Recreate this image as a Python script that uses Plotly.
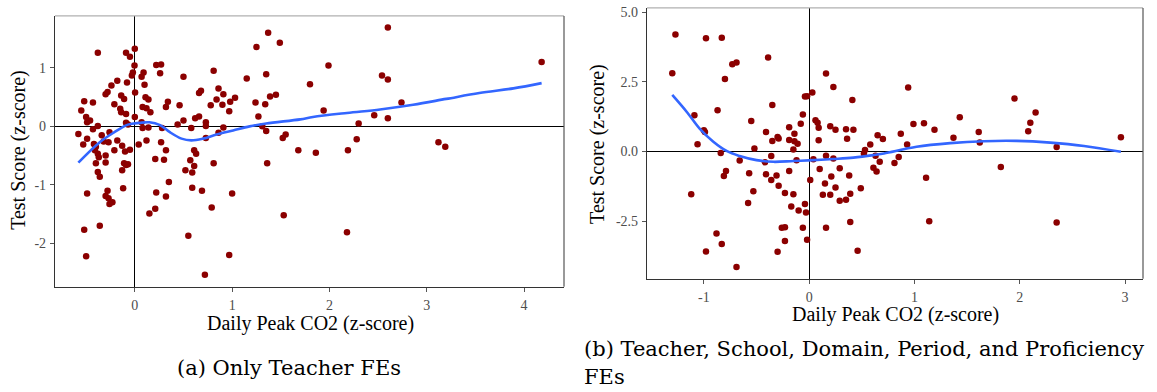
import plotly.graph_objects as go

# ---------------- Data: panel (a) ----------------
a_x = [-0.58, -0.53, -0.55, -0.52, -0.50, -0.49, -0.46, -0.49, -0.38, -0.43, -0.43, -0.38, -0.42, -0.40,
       -0.41, -0.38, -0.37, -0.40, -0.38, -0.36, -0.34, -0.32, -0.30, -0.30, -0.26, -0.27, -0.30, -0.28,
       -0.24, -0.18, -0.21, -0.21, -0.18, -0.15, -0.14, -0.11, -0.14, -0.13, -0.10, -0.11, -0.13, -0.09,
       -0.07, -0.09, -0.09, -0.07, -0.05, -0.09, -0.05, -0.08, -0.03, -0.02, -0.003, 0.0, 0.003, 0.0,
       0.04, 0.07, 0.08, 0.09, 0.07, 0.10, 0.11, 0.14, 0.08, 0.12, 0.16, 0.14, 0.12, 0.21, 0.22, 0.27,
       0.26, 0.34, 0.32, 0.28, 0.27, 0.32, 0.30, 0.35, 0.22, 0.32, 0.46, 0.44, 0.50, 0.50, 0.52, 0.58,
       0.57, 0.61, 0.63, 0.59, 0.61, 0.59, 0.66, 0.62, 0.66, 0.68, 0.73, 0.73, 0.73, 0.69, 0.78, 0.81,
       0.81, 0.84, 0.86, 0.86, 0.90, 0.91, 0.91, 0.97, 0.98, 1.03, 1.00, 1.15, 1.24, 1.27, 1.25, 1.35,
       1.34, 1.31, 1.35, 1.37, 1.39, 1.45, 1.49, 1.36, 1.52, 1.55, 1.68,
       -0.49, -0.28, -0.30, -0.27, -0.23, -0.26, -0.52, -0.36, -0.50, -0.12, 0.15, 0.21, 0.55, 0.72,
       0.79, 0.97, 1.53,
       1.99, 1.80, 1.94, 2.60, 2.54, 2.60, 2.74, 2.46, 2.60, 2.30, 1.86, 2.19, 2.28, 3.12, 3.19, 4.18,
       2.18]
a_y = [-0.13, -0.31, 0.27, 0.43, 0.16, 0.07, 0.10, -0.21, 1.26, 0.41, -0.05, 0.005, -0.30, -0.35,
       -0.41, -0.47, -0.53, -0.63, -0.78, -0.86, -0.15, -0.26, -0.50, -0.62, -0.10, -0.27, 0.55, 0.59,
       0.70, 0.78, 0.38, -0.41, -0.24, 0.30, 0.53, 0.47, 0.24, -0.33, -0.43, -0.63, -0.75, -0.66,
       -0.65, 0.21, 0.06, 0.03, -0.40, 1.26, 1.19, 0.75, 0.87, 0.92, 1.04, 1.33, 0.58, 0.16,
       -0.31, 0.07, -0.03, 0.92, 0.85, 0.71, 0.50, 0.46, 0.33, 0.31, 0.24, -0.02, -0.24, -0.56, 1.05, 1.06,
       0.91, 0.42, 0.33, -0.03, -0.27, -0.41, -0.57, -0.95, -1.13, -1.20, 0.36, 0.03, 0.10, 0.85, -0.75, -0.03,
       -0.58, -0.41, -0.47, -0.79, -0.68, -1.05, 0.17, 0.14, 0.57, 0.61, 0.07, 0.005, -0.20, -1.10, 0.36, 0.95,
       -0.63, 0.46, 0.65, -0.11, 0.37, 0.55, -0.02, 0.26, 0.42, 0.49, -1.15, 0.82, 0.41, 0.17, 1.36, 0.89,
       0.38, 0.0, -0.08, 1.60, 0.51, 0.54, 1.43, -0.63, -0.20, -0.14, -0.41,
       -1.15, -1.10, -1.19, -1.23, -1.30, -1.33, -1.77, -1.70, -2.22, -1.06, -1.49, -1.41, -1.87, -2.54,
       -1.39, -2.20, -1.52,
       1.04, 0.72, 0.27, 1.69, 0.87, 0.80, 0.41, 0.19, 0.14, 0.05, -0.45, -0.41, -0.22, -0.27, -0.35, 1.10,
       -1.81]

a_fit_x = [-0.58, -0.36, -0.21, -0.07, 0.05, 0.15, 0.26, 0.36, 0.48, 0.58, 0.70, 0.84, 1.01, 1.18,
           1.35, 1.70, 1.83, 2.18, 2.52, 2.86, 3.20, 3.54, 3.89, 4.18]
a_fit_y = [-0.62, -0.27, -0.10, 0.03, 0.06, 0.07, 0.02, -0.10, -0.21, -0.24, -0.21, -0.14, -0.07, 0.0,
           0.05, 0.12, 0.16, 0.23, 0.29, 0.37, 0.47, 0.57, 0.65, 0.74]

# ---------------- Data: panel (b) ----------------
b_x = [-1.30, -1.27, -1.09, -1.06, -1.00, -0.99, -0.98, -0.83, -0.80, -0.87, -0.84, -0.73, -0.69, -0.79,
       -0.81, -0.66, -1.12, -0.55, -0.52, -0.57, -0.39, -0.35, -0.41, -0.42, -0.36, -0.35, -0.30, -0.29,
       -0.41, -0.36, -0.31, -0.19, -0.19, -0.14, -0.14, -0.11, -0.15, -0.12, -0.19, -0.08, -0.06, -0.04,
       -0.02, 0.03, 0.06, 0.08, 0.09, 0.09, 0.04, 0.10, 0.16, 0.20, 0.25, 0.16, 0.23, 0.23, 0.21, 0.15,
       0.29, 0.25, 0.35, 0.42, 0.41, 0.36, 0.38, 0.49, 0.53, 0.52, 0.58, 0.63, 0.65, 0.61, 0.64, 0.67,
       -0.98, -0.88, -0.83, -0.69, -0.58, -0.53, -0.29, -0.23, -0.15, -0.17, -0.30, -0.26, -0.23, -0.23,
       -0.10, -0.04, -0.03, -0.06, -0.02, 0.01, 0.13, 0.20, 0.16, 0.29, 0.35, 0.39, 0.39, 0.46,
       0.94, 0.99, 1.09, 1.19, 0.87, 0.93, 0.70, 0.81, 0.85, 1.11, 1.37, 1.43, 1.61, 1.62, 1.82, 1.95,
       2.08, 2.10, 2.15, 2.35, 2.96, 1.14, 2.35]
b_y = [2.81, 4.20, 1.30, 0.26, 0.76, 0.70, 4.06, 4.08, 2.60, 1.48, -0.05, 3.13, 3.19, -0.70,
       -0.88, -0.32, -1.53, 1.09, 0.11, -0.78, 3.37, 1.67, 0.70, -0.39, -0.16, 0.38, 0.52, 0.47,
       -0.82, -1.02, -0.86, 0.87, 0.41, 0.64, 0.37, 0.28, 0.07, -0.31, -0.70, 1.00, 1.33, 1.97,
       1.98, 2.12, 1.12, 1.03, 0.85, 0.40, -0.28, -0.63, -0.15, 0.91, 0.78, 2.80, 2.31, -0.25, -0.90, -1.15,
       -0.60, -1.29, 0.80, 0.78, 1.85, 0.46, -0.86, -1.32, 0.05, -0.08, 0.25, -0.15, 0.58, -0.58, -0.72, -0.37,
       -3.59, -2.94, -3.32, -4.14, -1.85, -1.43, -1.23, -1.49, -1.53, -1.97, -3.60, -2.74, -2.72, -3.21,
       -2.12, -1.88, -2.19, -2.74, -3.17, -1.02, -1.55, -1.55, -2.74, -1.77, -1.73, -1.52, -2.53, -3.56,
       2.30, 0.99, 1.01, 0.78, 0.64, 0.25, 0.45, -0.41, -0.20, -0.94, 0.49, 1.23, 0.70, 0.32, -0.56, 1.90,
       0.73, 1.03, 1.40, 0.16, 0.51, -2.50, -2.55]

b_fit_x = [-1.30, -1.16, -1.04, -0.91, -0.78, -0.66, -0.50, -0.34, -0.15, 0.04, 0.23, 0.42, 0.61,
           0.71, 1.02, 1.34, 1.66, 1.97, 2.29, 2.61, 2.96]
b_fit_y = [2.03, 1.41, 0.82, 0.35, 0.01, -0.16, -0.31, -0.37, -0.34, -0.31, -0.27, -0.22, -0.13,
           -0.07, 0.17, 0.30, 0.37, 0.38, 0.32, 0.20, -0.01]

a_xticks = [0, 1, 2, 3, 4]
a_yticks = [-2, -1, 0, 1]
b_xticks = [-1, 0, 1, 2, 3]
b_yticks = [-2.5, 0.0, 2.5, 5.0]
b_yticktext = ["-2.5", "0.0", "2.5", "5.0"]

x_title = "Daily Peak CO2 (z-score)"
y_title = "Test Score (z-score)"
cap_a = "(a) Only Teacher FEs"
cap_b1 = "(b) Teacher, School, Domain, Period, and Proficiency"
cap_b2 = "FEs"

# ---------------- Figure ----------------
W, H = 1157, 392
PT = "#8B0000"
LINE = "#3366FF"
SERIF = "Liberation Serif"
CAPF = "DejaVu Serif"

fig = go.Figure()
fig.add_trace(go.Scatter(x=a_x, y=a_y, mode="markers", xaxis="x", yaxis="y",
                         marker=dict(color=PT, size=6.5, line=dict(width=0)), showlegend=False))
fig.add_trace(go.Scatter(x=a_fit_x, y=a_fit_y, mode="lines", xaxis="x", yaxis="y",
                         line=dict(color=LINE, width=2.6, shape="spline"), showlegend=False))
fig.add_trace(go.Scatter(x=b_x, y=b_y, mode="markers", xaxis="x2", yaxis="y2",
                         marker=dict(color=PT, size=6.5, line=dict(width=0)), showlegend=False))
fig.add_trace(go.Scatter(x=b_fit_x, y=b_fit_y, mode="lines", xaxis="x2", yaxis="y2",
                         line=dict(color=LINE, width=2.6, shape="spline"), showlegend=False))

def px_x(p):
    return p / W

def px_y(p):
    return (H - p) / H

axis_common = dict(showgrid=False, zeroline=True, zerolinecolor="black", zerolinewidth=1.2,
                   showline=True, linecolor="#333333", linewidth=1.2, mirror=False,
                   ticks="outside", ticklen=4, tickcolor="#555555", ticklabelstandoff=1,
                   tickfont=dict(family=SERIF, size=14, color="#4d4d4d"))

fig.update_layout(
    width=W, height=H, margin=dict(l=0, r=0, t=0, b=0),
    paper_bgcolor="white", plot_bgcolor="white",
    xaxis=dict(domain=[px_x(55), px_x(564)], range=[-0.82, 4.41], anchor="y",
               tickvals=a_xticks, ticktext=[str(v) for v in a_xticks], **axis_common),
    yaxis=dict(domain=[px_y(286), px_y(13)], range=[-2.745, 1.89], anchor="x",
               tickvals=a_yticks, ticktext=[str(v) for v in a_yticks], **axis_common),
    xaxis2=dict(domain=[px_x(647), px_x(1143)], range=[-1.54, 3.17], anchor="y2",
                tickvals=b_xticks, ticktext=[str(v) for v in b_xticks], **axis_common),
    yaxis2=dict(domain=[px_y(278), px_y(5)], range=[-4.57, 5.15], anchor="x2",
                tickvals=b_yticks, ticktext=b_yticktext, **axis_common),
)

# panel borders (top/right lighter, like the reference)
for xr, yr in [("x domain", "y domain"), ("x2 domain", "y2 domain")]:
    fig.add_shape(type="line", xref=xr, yref=yr, x0=0, x1=1, y0=1, y1=1,
                  line=dict(color="#b0b0b0", width=1.2))
    fig.add_shape(type="line", xref=xr, yref=yr, x0=1, x1=1, y0=0, y1=1,
                  line=dict(color="#555555", width=1.2))

tf = dict(family=SERIF, size=20, color="black")
capf = dict(family=CAPF, size=21, color="black")
common = dict(xref="paper", yref="paper", showarrow=False, yanchor="middle")
ann = [
    dict(text=x_title, x=px_x(310), y=px_y(323), xanchor="center", font=tf, **common),
    dict(text=y_title, x=px_x(19), y=px_y(148), xanchor="center", font=tf, textangle=-90, **common),
    dict(text=x_title, x=px_x(895), y=px_y(314), xanchor="center", font=tf, **common),
    dict(text=y_title, x=px_x(598), y=px_y(142), xanchor="center", font=tf, textangle=-90, **common),
    dict(text=cap_a, x=px_x(289), y=px_y(368), xanchor="center", font=capf, **common),
    dict(text=cap_b1, x=px_x(582), y=px_y(349), xanchor="left", font=capf, **common),
    dict(text=cap_b2, x=px_x(582), y=px_y(377), xanchor="left", font=capf, **common),
]
fig.update_layout(annotations=ann)

fig.write_html("out.html", config={"displayModeBar": False},
               post_script="document.body.style.margin='0px';")
